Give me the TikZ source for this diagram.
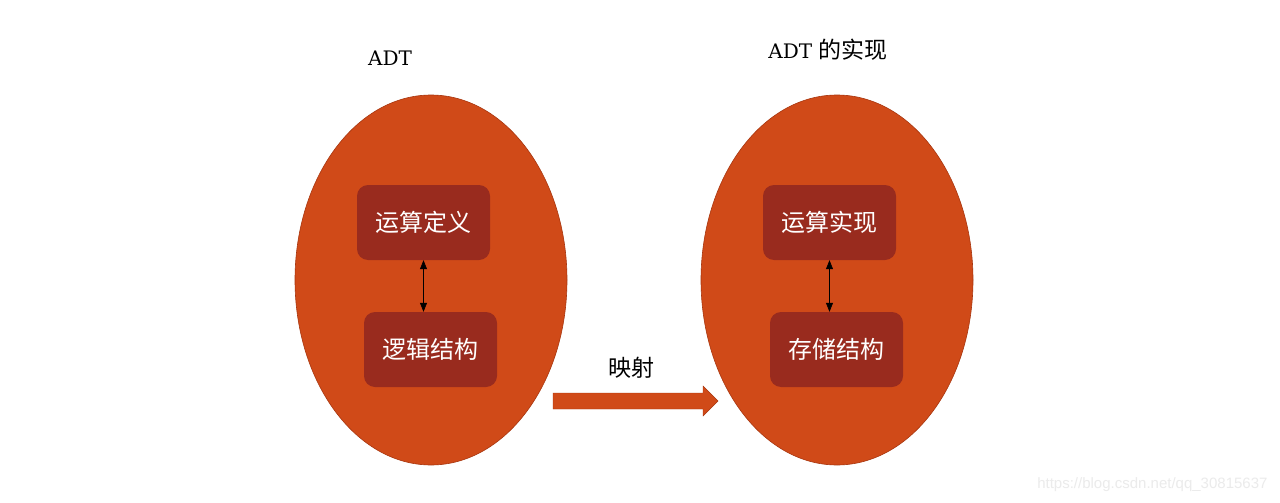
\documentclass[tikz,border=0pt]{standalone}
\usepackage{fontspec}
\setmainfont{DejaVu Serif}
\newfontfamily\cjk{Noto Sans CJK SC}
\newfontfamily\wm{Liberation Sans}
\newfontfamily\slab{DejaVu Serif}
\usetikzlibrary{shapes.geometric,arrows.meta}
\definecolor{ellfill}{HTML}{D04A18}
\definecolor{elldraw}{HTML}{A8360F}
\definecolor{boxfill}{HTML}{992B1E}
\begin{document}
\begin{tikzpicture}[x=1pt,y=-1pt,
  blob/.style={ellipse, fill=ellfill, draw=elldraw, line width=0.6pt, minimum width=272pt, minimum height=370pt, inner sep=0pt},
  rbox/.style={rectangle, rounded corners=11pt, fill=boxfill, minimum width=133pt, minimum height=75pt, text=white, font=\cjk\fontsize{24}{27}\selectfont, inner sep=0pt},
  link/.style={{Triangle[length=9pt,width=7pt]}-{Triangle[length=9pt,width=7pt]}, line width=0.7pt, black},
  title/.style={font=\slab\fontsize{20}{24}\selectfont, text=black}]
\useasboundingbox (0,0) rectangle (1280,503);
\fill[white] (0,0) rectangle (1280,503);
% ellipses
\node[blob] (L) at (431,280) {};
\node[blob] (R) at (837,280) {};
% boxes
\node[rbox] (lt) at (423.5,222.5) {运算定义};
\node[rbox] (lb) at (430.5,349.5) {逻辑结构};
\node[rbox] (rt) at (829.5,222.5) {运算实现};
\node[rbox] (rb) at (836.5,349.5) {存储结构};
\draw[link] (lt.south) -- (lt.south |- lb.north);
\draw[link] (rt.south) -- (rt.south |- rb.north);
% titles
\node[title] (tl) at (390,58) {ADT};
\node[title] (tr) at (828,50) {ADT {\cjk\fontsize{23}{26}\selectfont 的实现}};
% mapping arrow
\node[font=\cjk\fontsize{23}{26}\selectfont] (map) at (631,368) {映射};
\fill[ellfill, draw=elldraw, line width=0.4pt] (553,393) -- (703,393) -- (703,386) -- (718,401) -- (703,416) -- (703,409) -- (553,409) -- cycle;
% watermark
\node[font=\wm\fontsize{15}{18}\selectfont, text=black!8, anchor=east] (wmk) at (1271,485) {https://blog.csdn.net/qq\_30815637};
\end{tikzpicture}
\end{document}
